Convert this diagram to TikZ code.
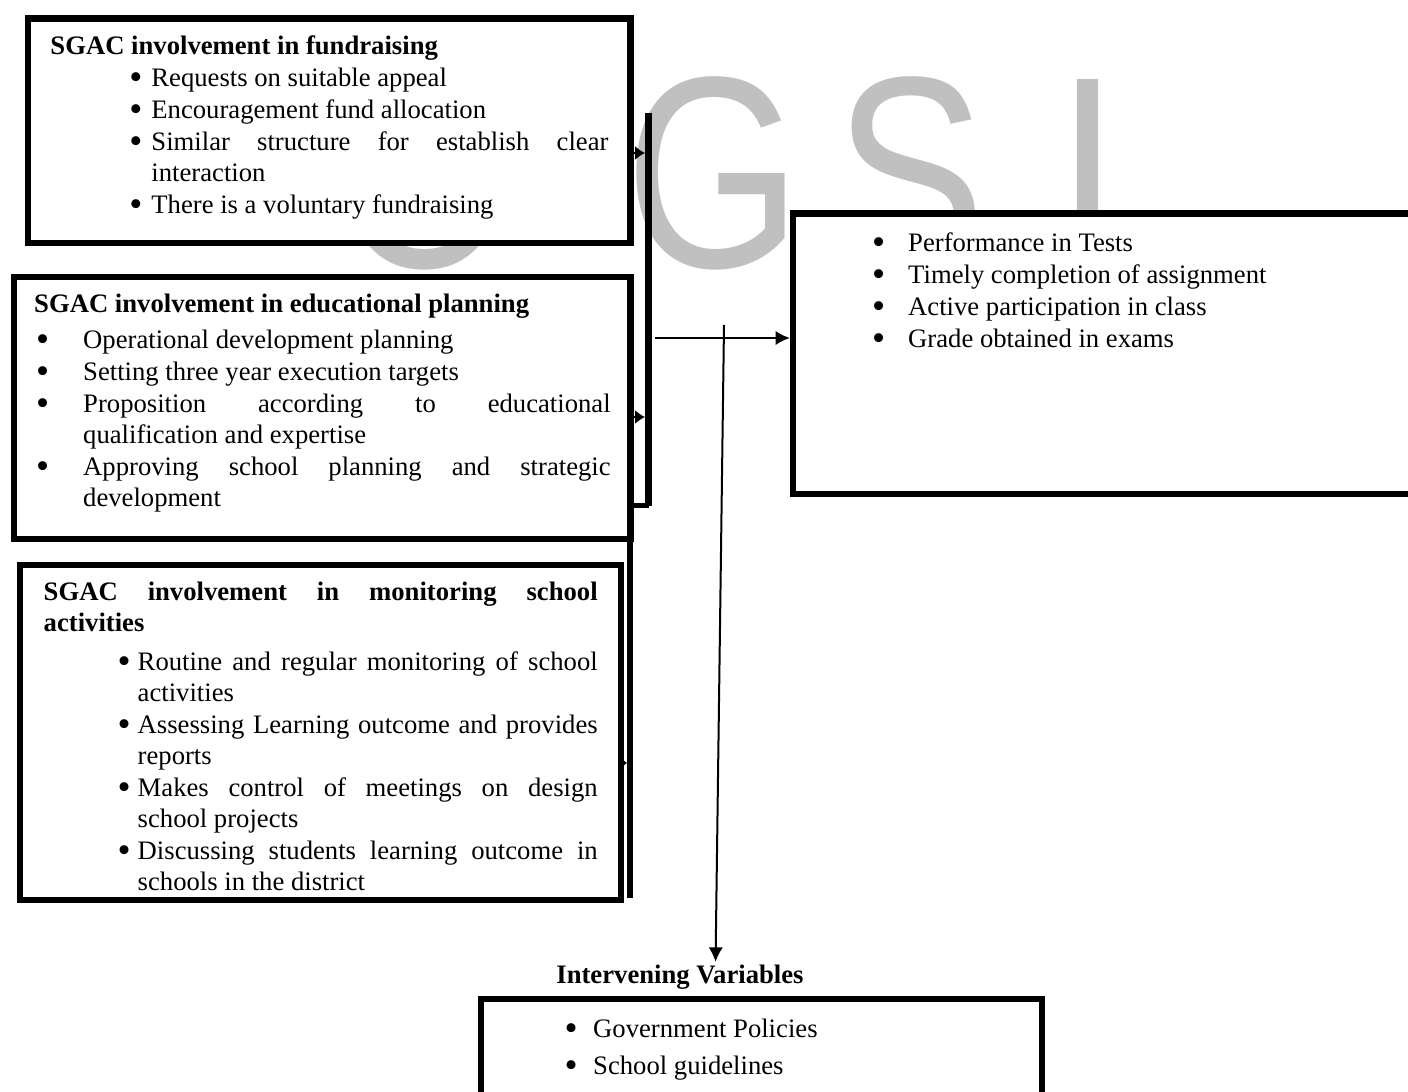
\documentclass[tikz,border=0pt]{standalone}
\usepackage{fontspec}
\setmainfont{Liberation Serif}
\newfontfamily\wmfont{Liberation Sans}
\usepackage{tikz}
\usetikzlibrary{arrows.meta}
\definecolor{wm_gray}{RGB}{192,192,192}
\newlength{\px}\setlength{\px}{0.45pt}
\newlength{\bulletoff}\newlength{\textoff}
\newcommand{\bset}[2]{\setlength{\bulletoff}{#1\px}\setlength{\textoff}{#2\px}\setlength{\baselineskip}{31\px}\setlength{\parskip}{1\px}}
\newcommand{\bitem}[1]{\hangindent=\textoff\hangafter=1\noindent\makebox[\textoff][l]{\hspace*{\bulletoff}\raisebox{-1.4pt}{\scalebox{1.4}{\textbullet}}}#1\par}
\newcommand{\bottomgap}[1]{\par\kern#1\px\hrule height0pt}

\begin{document}
\begin{tikzpicture}[x=0.45pt,y=-0.45pt,>={Latex[length=6.5pt,width=6.5pt]}]
    \tikzstyle{box}=[draw, line width=2.9pt, fill=white, anchor=north west, align=justify, font=\fontsize{12}{14}\selectfont, inner ysep=0pt]
    \tikzstyle{wm}=[text=wm_gray, font=\wmfont\fontsize{123}{123}\selectfont, inner sep=0pt, anchor=base]
    \tikzstyle{bus}=[line width=3pt]
    \tikzstyle{arr}=[-{Latex[length=4.5pt,width=6.5pt]}, line width=1.2pt]

    \useasboundingbox (0,0) rectangle (1408,1092);
    \clip (0,0) rectangle (1408,1092);
    \fill[white] (0,0) rectangle (1408,1092);

    % watermark
    \node[wm] (wmO) at (425,267)  {\scalebox{0.83}[1]{O}};
    \node[wm] (wmG) at (714,267)  {\scalebox{0.83}[1]{G}};
    \node[wm] (wmS) at (910,267)  {\scalebox{0.83}[1]{S}};
    \node[wm] (wmI) at (1088,267) {\scalebox{0.83}[1]{I}};

    % independent variables
    \node[box, text width=251.1pt, inner xsep=9.9pt, minimum width=271.1pt, minimum height=100.8pt] (fund) at (25,15.5) {\bset{79}{101}%
      \textbf{SGAC involvement in fundraising}\par
      \bitem{Requests  on suitable appeal}
      \bitem{Encouragement fund allocation}
      \bitem{Similar structure for establish clear\linebreak interaction}
      \bitem{There is a voluntary fundraising}
      \bottomgap{7}};
    \node[box, text width=259.4pt, inner xsep=9pt, minimum width=277.4pt, minimum height=117.9pt] (plan) at (11,273.5) {\bset{2}{49}%
      \textbf{SGAC involvement in educational planning}\par\vspace{4\px}
      \bitem{Operational development planning}
      \bitem{Setting three year execution targets}
      \bitem{Proposition according to educational\linebreak qualification and expertise}
      \bitem{Approving school planning and strategic\linebreak development}
      \bottomgap{10}};
    \node[box, text width=249.3pt, inner xsep=10.35pt, minimum width=270.45pt, minimum height=150.75pt] (mon) at (17,561.5) {\bset{74}{94}%
      \rule{0pt}{26\px}\textbf{SGAC involvement in monitoring school\linebreak activities}\par\vspace{7\px}
      \bitem{Routine and regular monitoring  of school\linebreak activities}
      \bitem{Assessing Learning outcome and provides\linebreak reports}
      \bitem{Makes control  of meetings on design\linebreak school projects}
      \bitem{Discussing students learning outcome  in\linebreak schools in  the district}};

    % dependent variable
    \node[box, text width=272.7pt, inner xsep=9.9pt, minimum width=292.5pt, minimum height=126pt] (dep) at (790,210.5) {\bset{57}{93}%
      \bitem{Performance in Tests}
      \bitem{Timely completion of assignment}
      \bitem{Active participation in class}
      \bitem{Grade obtained in exams}
      \bottomgap{125}};

    % intervening variables
    \node[inner sep=1pt, anchor=base, font=\fontsize{12}{14}\selectfont\bfseries] (ivlabel) at (680,983) {Intervening Variables};
    \node[box, text width=232.65pt, inner xsep=9.9pt, minimum width=252.45pt, minimum height=47pt] (intv) at (477.5,995.5) {\bset{62}{90.5}%
      \bitem{Government Policies}\vspace{5\px}
      \bitem{School guidelines}
      \bottomgap{3}};

    % connectors
    \coordinate (b1) at (648.5,113);
    \coordinate (b2) at (648.5,505.5);
    \coordinate (t1) at (645,153);
    \coordinate (t2) at (645,417);
    \coordinate (t3) at (627,763);
    \coordinate (h0) at (655,338);
    \coordinate (v0) at (724,325);

    \draw[bus] (b1) -- (b2);
    \draw[line width=2.5pt] (b2) -- (plan.east |- b2);
    \draw[line width=2.7pt] (630,505.5) -- (630,898);
    \draw[arr] (fund.east |- t1) -- (t1);
    \draw[arr] (plan.east |- t2) -- (t2);
    \draw[arr, -{Latex[length=2.8pt,width=5.5pt]}] (mon.east |- t3) -- (t3);
    \draw[->, line width=1.1pt] (h0) -- (dep.west |- h0);
    \draw[->, line width=0.9pt] (v0) -- ([xshift=16pt]ivlabel.north);
\end{tikzpicture}
\end{document}
